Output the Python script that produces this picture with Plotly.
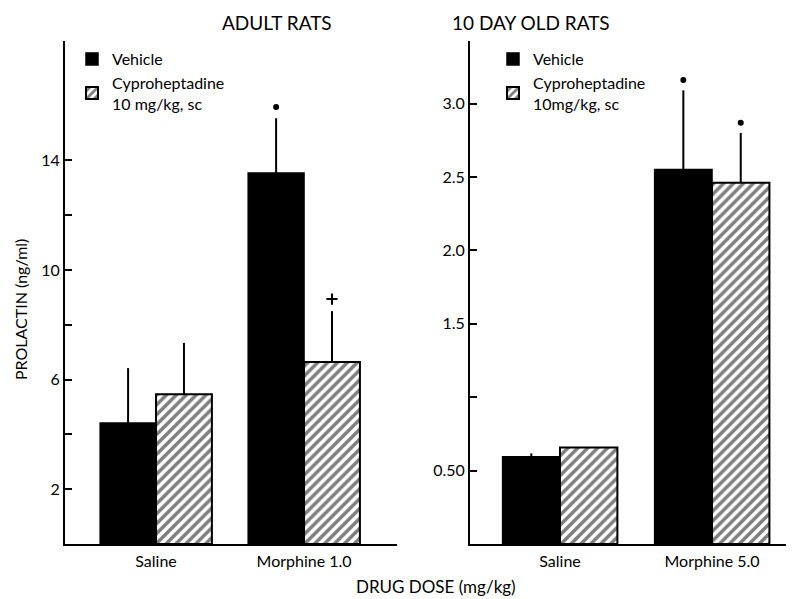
import plotly.graph_objects as go

# ---- data ----
adult_categories = ["Saline", "Morphine 1.0"]
adult_vehicle = [4.42, 13.54]
adult_vehicle_err = [2.0, 2.0]
adult_cypro = [5.47, 6.64]
adult_cypro_err = [1.87, 1.86]
adult_vehicle_sig = [None, 15.95]
adult_cypro_sig = [None, 8.94]

infant_categories = ["Saline", "Morphine 5.0"]
infant_vehicle = [0.595, 2.55]
infant_vehicle_err = [0.022, 0.54]
infant_cypro = [0.657, 2.46]
infant_cypro_err = [0.0, 0.34]
infant_vehicle_sig = [None, 3.16]
infant_cypro_sig = [None, 2.87]

adult_tickvals = [2, 4, 6, 8, 10, 12, 14]
adult_ticktext = ["2", "", "6", "", "10", "", "14"]
infant_tickvals = [0.5, 1.0, 1.5, 2.0, 2.5, 3.0]
infant_ticktext = ["0.50", "", "1.5", "2.0", "2.5", "3.0"]

FONT = "Lato"
W, H = 794, 599
OFF = 8  # page body margin


def px(x):
    return (x - OFF) / W


def py(y):
    return 1 - (y - OFF) / H


fig = go.Figure()


def add_panel(xa, ya, cats, veh, veh_err, cyp, cyp_err, veh_sig, cyp_sig,
              sig_symbol, sig_size, sig_line, legend, cyp_label):
    fig.add_trace(go.Bar(
        x=cats, y=veh, name="Vehicle", xaxis=xa, yaxis=ya, legend=legend,
        offsetgroup="veh",
        marker=dict(color="black", line=dict(color="black", width=1.5)),
        error_y=dict(type="data", array=veh_err, arrayminus=[0] * len(veh_err),
                     symmetric=False, width=0, thickness=2, color="black"),
    ))
    fig.add_trace(go.Bar(
        x=cats, y=cyp, name=cyp_label, xaxis=xa, yaxis=ya, legend=legend,
        offsetgroup="cyp",
        marker=dict(color="white", line=dict(color="black", width=2),
                    pattern=dict(shape="/", fgcolor="black", bgcolor="white",
                                 size=7, solidity=0.5)),
        error_y=dict(type="data", array=cyp_err, arrayminus=[0] * len(cyp_err),
                     symmetric=False, width=0, thickness=2, color="black"),
    ))
    fig.add_trace(go.Scatter(
        x=cats, y=veh_sig, mode="markers", xaxis=xa, yaxis=ya, showlegend=False,
        offsetgroup="veh",
        marker=dict(symbol="circle", size=6, color="black"),
    ))
    fig.add_trace(go.Scatter(
        x=cats, y=cyp_sig, mode="markers", xaxis=xa, yaxis=ya, showlegend=False,
        offsetgroup="cyp",
        marker=dict(symbol=sig_symbol, size=sig_size, color="black",
                    line=dict(color="black", width=sig_line)),
    ))


add_panel("x", "y", adult_categories, adult_vehicle, adult_vehicle_err,
          adult_cypro, adult_cypro_err, adult_vehicle_sig, adult_cypro_sig,
          "cross-thin", 8, 2, "legend", "Cyproheptadine<br>10 mg/kg, sc")
add_panel("x2", "y2", infant_categories, infant_vehicle, infant_vehicle_err,
          infant_cypro, infant_cypro_err, infant_vehicle_sig, infant_cypro_sig,
          "circle", 6, 0, "legend2", "Cyproheptadine<br>10mg/kg, sc")

ydom = [py(544), py(41)]
axis_common = dict(showline=True, linecolor="black", linewidth=2, showgrid=False,
                   zeroline=False, tickfont=dict(family=FONT, size=16, color="black"))

fig.update_layout(
    width=W, height=H, autosize=False,
    margin=dict(l=0, r=0, t=0, b=0),
    paper_bgcolor="white", plot_bgcolor="white",
    barmode="group", bargap=0.245, bargroupgap=0, scattermode="group",
    font=dict(family=FONT, color="black"),
    xaxis=dict(domain=[px(65), px(397)], range=[-0.615, 1.628], anchor="y",
               ticks="", ticklabelstandoff=2, **axis_common),
    yaxis=dict(domain=ydom, range=[0, 18.36], anchor="x", ticks="inside",
               ticklen=7, tickwidth=2, tickcolor="black",
               tickvals=adult_tickvals, ticktext=adult_ticktext, **axis_common),
    xaxis2=dict(domain=[px(470), px(792)], range=[-0.592, 1.526], anchor="y2",
                ticks="", ticklabelstandoff=2, **axis_common),
    yaxis2=dict(domain=ydom, range=[0, 3.426], anchor="x2", ticks="inside",
                ticklen=7, tickwidth=2, tickcolor="black",
                tickvals=infant_tickvals, ticktext=infant_ticktext, **axis_common),
    legend=dict(x=px(72), y=py(42), xanchor="left", yanchor="top",
                bgcolor="rgba(0,0,0,0)", font=dict(family=FONT, size=16),
                tracegroupgap=14),
    legend2=dict(x=px(493), y=py(42), xanchor="left", yanchor="top",
                 bgcolor="rgba(0,0,0,0)", font=dict(family=FONT, size=16),
                 tracegroupgap=14),
    annotations=[
        dict(text="ADULT RATS", x=px(220), y=py(22), xref="paper", yref="paper",
             yanchor="middle", showarrow=False, font=dict(family=FONT, size=19)),
        dict(text="10 DAY OLD RATS", x=px(612), y=py(22), xref="paper", yref="paper",
             yanchor="middle", showarrow=False, font=dict(family=FONT, size=19)),
        dict(text="PROLACTIN (ng/ml)", x=px(20), y=py(310), xref="paper", yref="paper",
             xanchor="center", yanchor="middle",
             showarrow=False, textangle=-90, font=dict(family=FONT, size=16)),
        dict(text="DRUG DOSE (mg/kg)", x=px(436), y=py(586), xref="paper", yref="paper",
             yanchor="middle", showarrow=False, font=dict(family=FONT, size=17)),
    ],
)

fig.write_html("out.html")
